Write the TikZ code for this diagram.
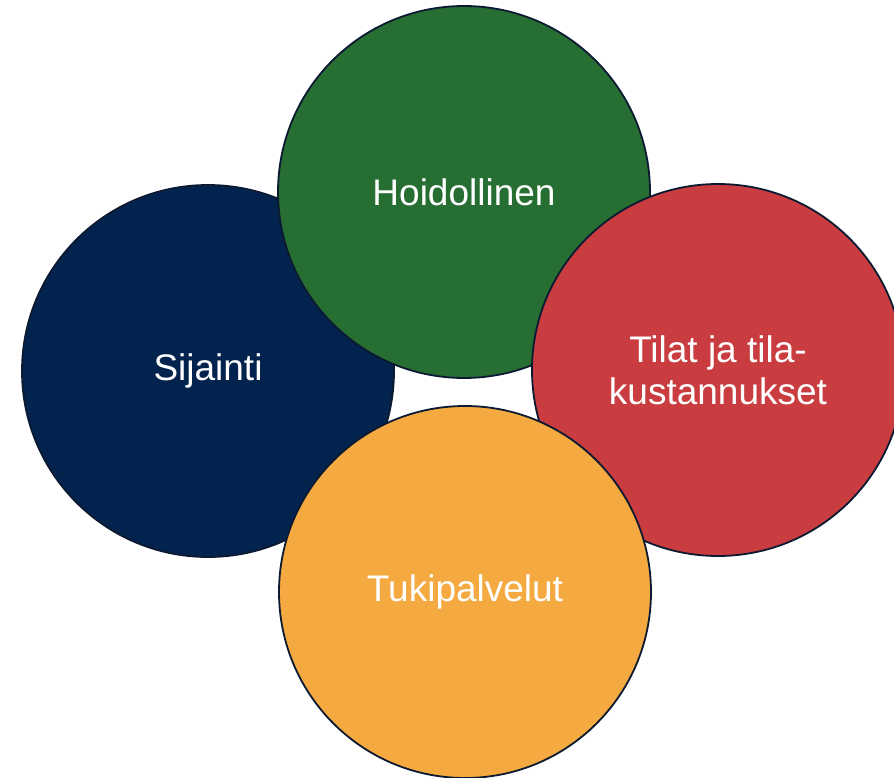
\documentclass[tikz,border=0pt]{standalone}
\usepackage{fontspec}
\setmainfont{Liberation Sans}
\usetikzlibrary{positioning}

\definecolor{rim}{HTML}{0B1A30}
\definecolor{navy}{HTML}{03234F}
\definecolor{leaf}{HTML}{276E33}
\definecolor{brick}{HTML}{C93C40}
\definecolor{amber}{HTML}{F5A941}

\begin{document}
\begin{tikzpicture}[x=1pt,y=1pt,
	blob/.style={circle,draw=rim,line width=1.8pt,minimum size=2*\r pt,
		inner sep=0pt,align=center,text=white,
		font=\fontsize{37}{42}\selectfont}]

\def\r{186}

\useasboundingbox (0,0) rectangle (894,-778);

\node[blob,fill=navy] (sijainti) at (208,-371) {Sijainti};
\node[blob,fill=leaf] (hoito) at (464,-192) {Hoidollinen};
\node[blob,fill=brick] (tilat) at (718,-370) {Tilat ja tila-\\kustannukset};
\node[blob,fill=amber] (tuki) at (465,-592) {Tukipalvelut};

\end{tikzpicture}
\end{document}
